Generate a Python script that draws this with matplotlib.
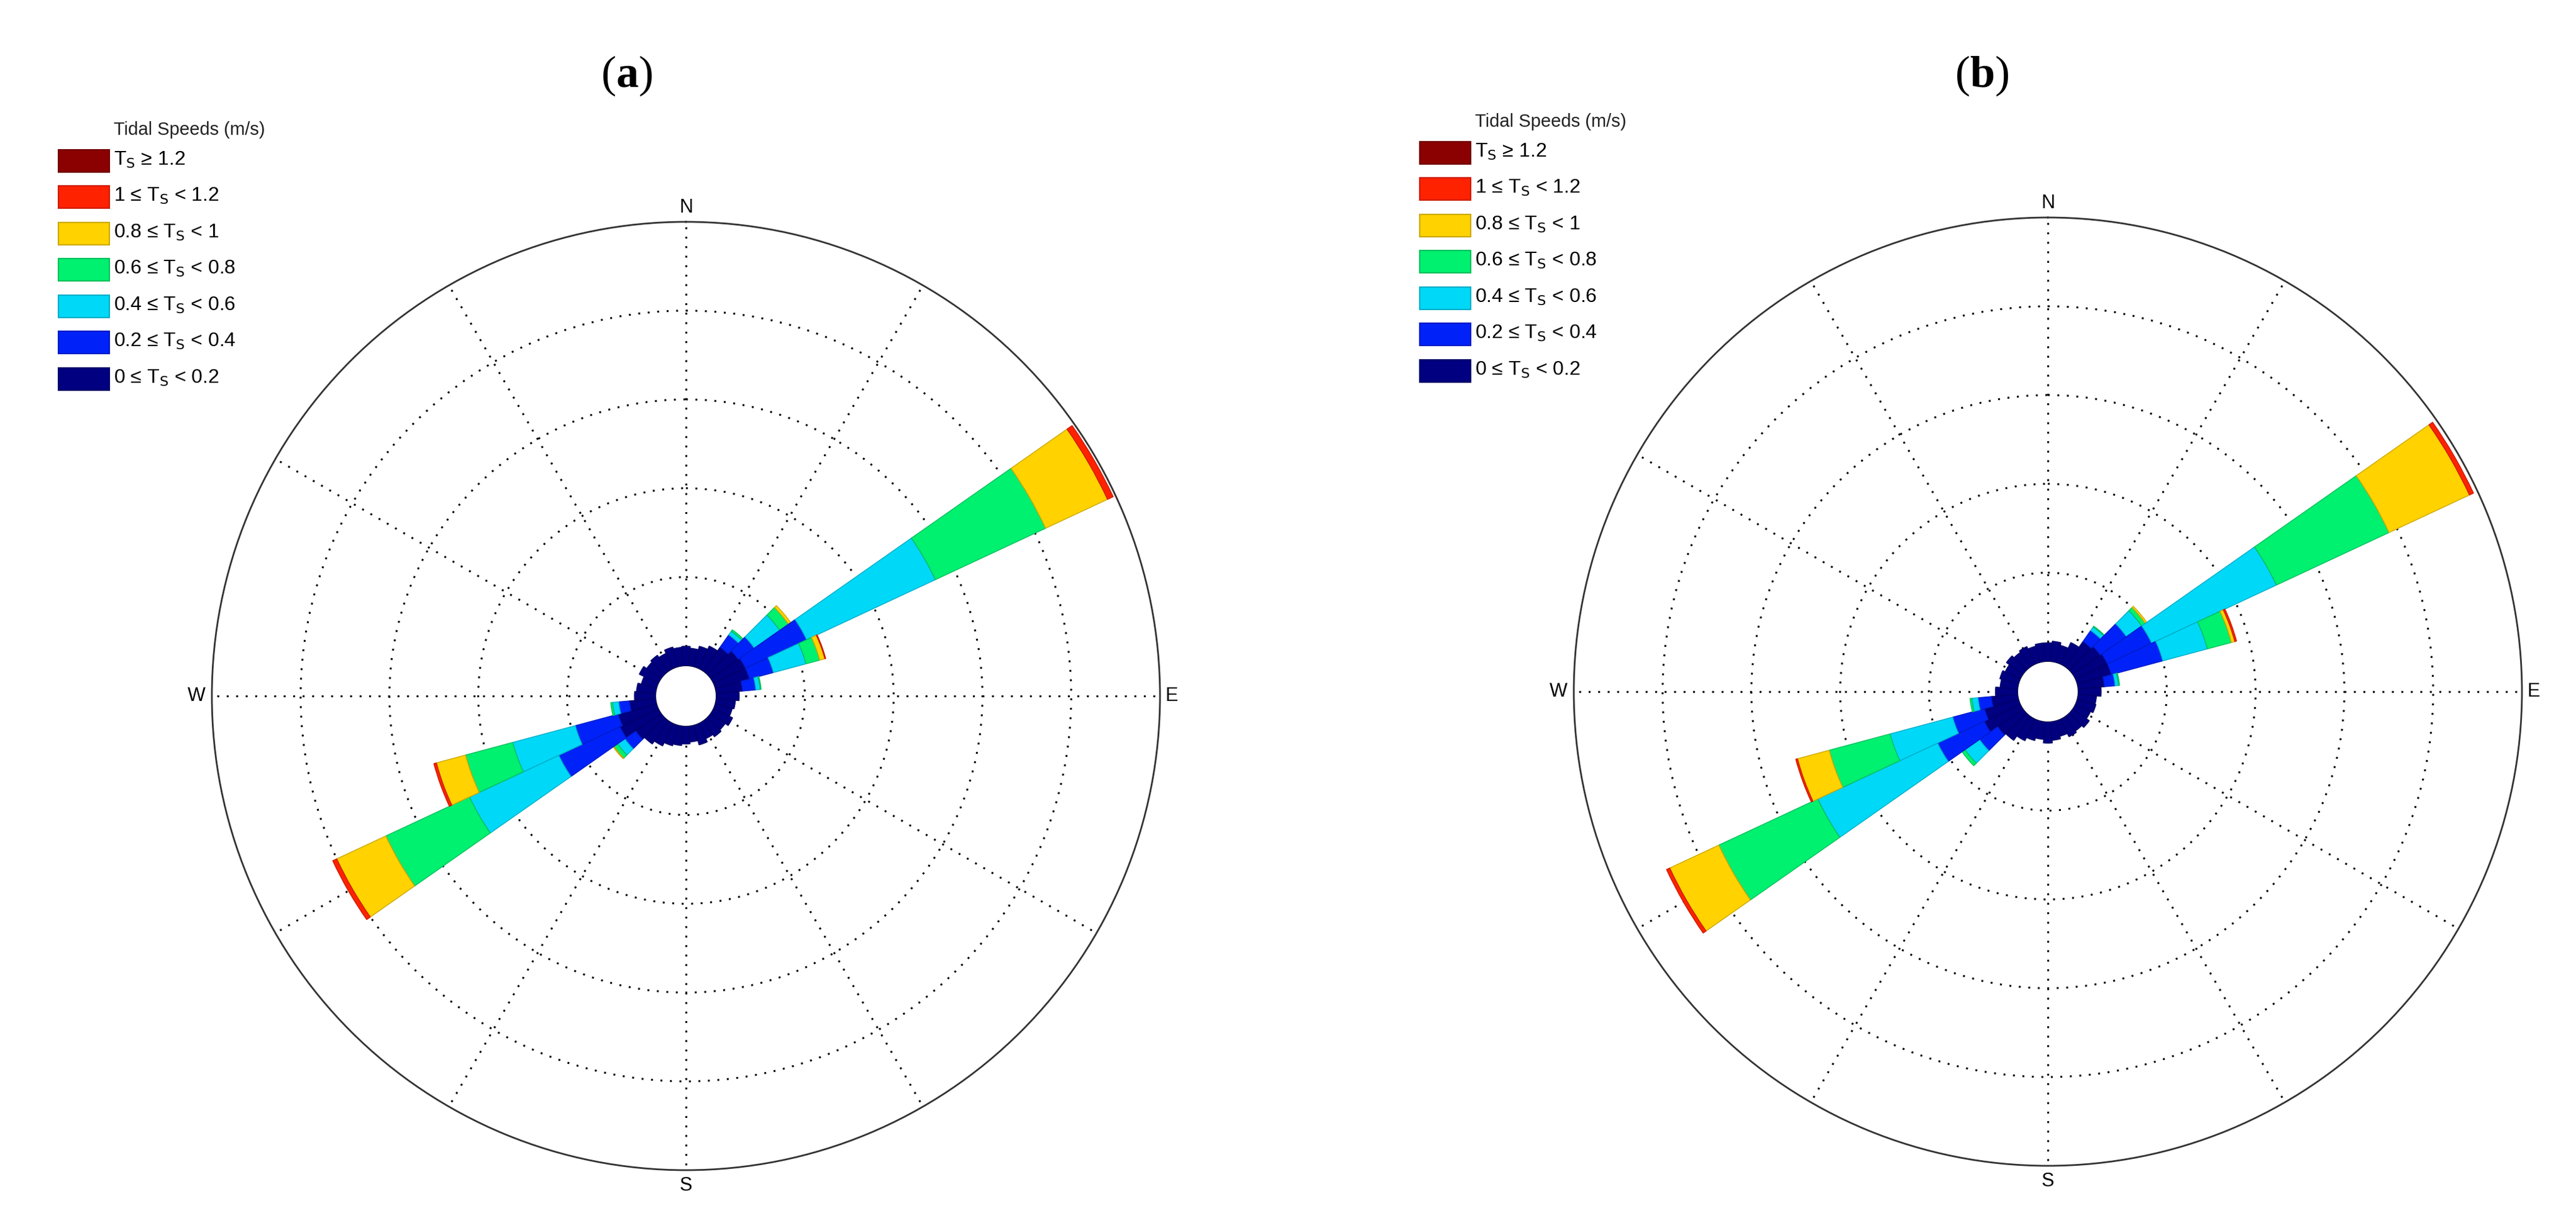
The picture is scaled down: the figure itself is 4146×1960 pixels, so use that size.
import numpy as np
import matplotlib
matplotlib.use("Agg")
import matplotlib.pyplot as plt
from matplotlib.patches import Rectangle

plt.rcParams['mathtext.fontset'] = 'custom'
plt.rcParams['mathtext.rm'] = 'Liberation Sans Narrow'
plt.rcParams['mathtext.bf'] = 'Liberation Serif:bold'
SANS = ['Liberation Sans Narrow', 'Liberation Sans', 'DejaVu Sans']

# ---------------- data (radial units = grid rings) ----------------
DIRS = list(range(0, 360, 10))
CLASS_LABELS = ['T$_\\mathrm{S}$ ≥ 1.2', '1 ≤ T$_\\mathrm{S}$ < 1.2', '0.8 ≤ T$_\\mathrm{S}$ < 1',
                '0.6 ≤ T$_\\mathrm{S}$ < 0.8', '0.4 ≤ T$_\\mathrm{S}$ < 0.6',
                '0.2 ≤ T$_\\mathrm{S}$ < 0.4', '0 ≤ T$_\\mathrm{S}$ < 0.2']
CLASS_COLORS = ['#8B0000', '#FF2200', '#FFD200', '#00F070', '#00D8F8', '#0022F8', '#000080']  # top->bottom
LEGEND_TITLE = 'Tidal Speeds (m/s)'
PANEL_TITLES = ['a', 'b']

# navy (0-0.2 m/s) base for every direction
A_NAVY = [0.22, 0.20, 0.24, 0.28, 0.33, 0.38, 0.40, 0.40, 0.33, 0.26, 0.22, 0.20,
          0.24, 0.20, 0.22, 0.19, 0.23, 0.18, 0.20, 0.22, 0.24, 0.28, 0.32, 0.35,
          0.48, 0.45, 0.30, 0.24, 0.22, 0.18, 0.24, 0.20, 0.22, 0.19, 0.23, 0.21]
B_NAVY = [0.21, 0.23, 0.20, 0.27, 0.35, 0.38, 0.40, 0.40, 0.30, 0.26, 0.21, 0.22,
          0.19, 0.23, 0.20, 0.22, 0.18, 0.21, 0.24, 0.20, 0.23, 0.27, 0.33, 0.35,
          0.45, 0.40, 0.30, 0.25, 0.20, 0.22, 0.19, 0.23, 0.20, 0.22, 0.19, 0.21]

# cumulative tops of classes (navy, blue, cyan, green, yellow, red, darkred) for main directions
A_DIRS = [40, 50, 60, 70, 80, 230, 240, 250, 260]
A_TOPS = [[0.33, 0.50, 0.55, 0.57, 0.57, 0.57, 0.57],
          [0.38, 0.60, 0.95, 1.07, 1.10, 1.10, 1.10],
          [0.40, 1.16, 2.76, 4.13, 4.90, 4.97, 4.97],
          [0.40, 0.68, 1.06, 1.22, 1.28, 1.29, 1.29],
          [0.30, 0.45, 0.50, 0.51, 0.51, 0.51, 0.51],
          [0.35, 0.50, 0.60, 0.65, 0.66, 0.66, 0.66],
          [0.48, 1.24, 2.35, 3.39, 4.00, 4.05, 4.05],
          [0.45, 0.95, 1.68, 2.23, 2.57, 2.60, 2.60],
          [0.30, 0.42, 0.49, 0.51, 0.51, 0.51, 0.51]]
B_DIRS = [40, 50, 60, 70, 80, 230, 240, 250, 260]
B_TOPS = [[0.35, 0.50, 0.55, 0.56, 0.56, 0.56, 0.56],
          [0.38, 0.74, 0.95, 1.00, 1.02, 1.02, 1.02],
          [0.40, 0.95, 2.50, 3.90, 4.90, 4.95, 4.95],
          [0.40, 1.00, 1.52, 1.80, 1.84, 1.86, 1.86],
          [0.30, 0.42, 0.46, 0.47, 0.47, 0.47, 0.47],
          [0.35, 0.60, 0.80, 0.84, 0.84, 0.84, 0.84],
          [0.45, 1.03, 2.52, 3.75, 4.36, 4.40, 4.40],
          [0.40, 0.77, 1.50, 2.21, 2.58, 2.60, 2.60],
          [0.30, 0.45, 0.52, 0.54, 0.54, 0.54, 0.54]]

W, H = 4146, 1960
fig = plt.figure(figsize=(W / 100, H / 100), dpi=100)

def edge(c):
    rgb = np.array(matplotlib.colors.to_rgb(c))
    return tuple(rgb * 0.8)

def draw_panel(cx, cy, R, navy, dirs, tops, title, title_x, leg_x, leg_y):
    ax = fig.add_axes([(cx - R) / W, 1 - (cy + R) / H, 2 * R / W, 2 * R / H], projection='polar')
    ax.set_theta_zero_location('N')
    ax.set_theta_direction(-1)
    ax.set_rorigin(-0.34)
    ax.set_ylim(0, 5)
    width = np.deg2rad(10)
    colors_bottom_up = CLASS_COLORS[::-1]
    # navy base
    base = list(navy)
    for d, t in zip(dirs, tops):
        base[DIRS.index(d)] = t[0]
    ax.bar(np.deg2rad(DIRS), base, width=width, bottom=0, color=colors_bottom_up[0],
           edgecolor=edge(colors_bottom_up[0]), linewidth=1, zorder=3)
    for d, t in zip(dirs, tops):
        prev = t[0]
        for k in range(1, 7):
            h = t[k] - prev
            if h > 0:
                ax.bar(np.deg2rad(d), h, width=width, bottom=prev, color=colors_bottom_up[k],
                       edgecolor=edge(colors_bottom_up[k]), linewidth=1, zorder=3)
            prev = t[k]
    ax.set_xticks(np.deg2rad(np.arange(0, 360, 30)))
    ax.set_xticklabels([])
    ax.set_yticks([1, 2, 3, 4])
    ax.set_yticklabels([])
    ax.grid(True, linestyle=(0, (1, 4)), color='black', linewidth=2.2, zorder=4)
    ax.set_axisbelow(False)
    ax.spines['polar'].set_color('#333333')
    ax.spines['polar'].set_linewidth(2)
    ax.spines['inner'].set_visible(False)
    fs = 22
    fig.text(cx / W, 1 - (cy - R - 8) / H, 'N', ha='center', va='bottom', fontsize=fs, family=SANS)
    fig.text(cx / W, 1 - (cy + R + 10) / H, 'S', ha='center', va='top', fontsize=fs, family=SANS)
    fig.text((cx + R + 8) / W, 1 - cy / H, 'E', ha='left', va='center', fontsize=fs, family=SANS)
    fig.text((cx - R - 10) / W, 1 - cy / H, 'W', ha='right', va='center', fontsize=fs, family=SANS)
    fig.text(title_x / W, 1 - 122 / H, '($\\mathbf{%s}$)' % title, ha='center', va='center',
             fontsize=52, family='Liberation Serif')
    # legend
    fig.text((leg_x + 89) / W, 1 - (leg_y - 32) / H, LEGEND_TITLE, ha='left', va='center',
             fontsize=21, family=SANS, color='#222222')
    for i, (lab, col) in enumerate(zip(CLASS_LABELS, CLASS_COLORS)):
        y = leg_y + i * 58.5
        fig.add_artist(Rectangle((leg_x / W, 1 - (y + 36) / H), 82 / W, 36 / H,
                                 transform=fig.transFigure, facecolor=col,
                                 edgecolor=edge(col), linewidth=1.5))
        fig.text((leg_x + 89) / W, 1 - (y + 16) / H, lab, ha='left', va='center',
                 fontsize=23, family=SANS)

draw_panel(1104, 1120, 763, A_NAVY, A_DIRS, A_TOPS, PANEL_TITLES[0], 1009, 94, 241)
draw_panel(3296, 1113, 763, B_NAVY, B_DIRS, B_TOPS, PANEL_TITLES[1], 3190, 2285, 228)

fig.savefig('out.png', dpi=100, facecolor='white')
